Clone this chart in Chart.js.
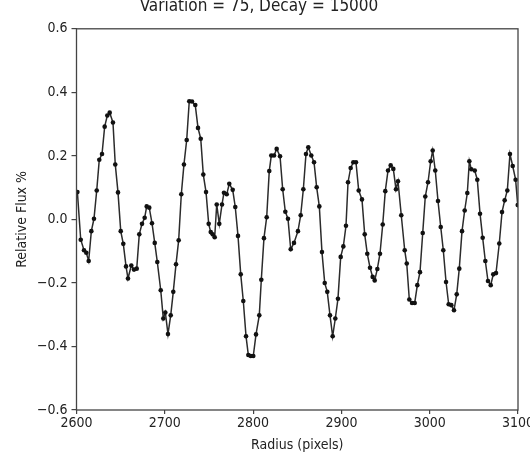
<!DOCTYPE html>
<html><head><meta charset="utf-8">
<script src="https://cdn.jsdelivr.net/npm/chart.js@4/dist/chart.umd.min.js"></script>
<style>
html,body{margin:0;padding:0;background:#fff;overflow:hidden;}
#wrap{position:relative;width:530px;height:464px;overflow:hidden;background:#fff;}
#c{position:absolute;left:0;top:-6px;}
</style></head><body>
<div id="wrap"><canvas id="c" width="530" height="470"></canvas></div>
<script>
const titleText = 'Variation = 75, Decay = 15000';
const xLabel = 'Radius (pixels)';
const yLabel = 'Relative Flux %';
const xTicks = [2600, 2700, 2800, 2900, 3000, 3100];
const yTicks = [-0.6, -0.4, -0.2, 0.0, 0.2, 0.4, 0.6];

const radius = [
2601.0,2604.8,2608.5,2611.1,2613.8,2616.8,2619.8,2622.9,2625.8,2628.9,
2631.9,2634.9,2637.6,2641.3,2643.9,2647.0,2650.1,2653.0,2656.1,2658.3,
2662.1,2665.1,2668.2,2671.1,2674.2,2677.2,2679.5,2682.4,2685.5,2688.6,
2691.5,2695.4,2698.3,2700.6,2703.6,2706.7,2709.6,2712.7,2715.7,2718.7,
2721.7,2724.8,2727.7,2730.8,2734.5,2737.6,2740.7,2743.6,2746.7,2749.7,
2752.0,2754.2,2756.5,2758.8,2761.7,2764.8,2767.0,2770.1,2773.0,2776.9,
2779.8,2782.9,2786.0,2788.9,2792.0,2794.6,2797.3,2800.2,2803.3,2807.0,
2809.3,2812.3,2815.4,2818.3,2820.6,2823.7,2826.7,2830.5,2833.5,2836.5,
2839.5,2842.6,2846.3,2850.8,2853.9,2856.9,2859.9,2862.5,2865.9,2869.0,
2872.0,2875.0,2878.0,2881.1,2884.0,2887.1,2890.1,2893.1,2896.1,2899.2,
2902.2,2905.2,2907.5,2910.5,2913.5,2916.5,2919.6,2923.3,2926.4,2929.3,
2932.4,2935.4,2937.7,2940.7,2943.7,2946.8,2949.7,2952.8,2955.8,2958.8,
2961.8,2964.1,2967.8,2971.7,2974.0,2976.9,2980.0,2983.0,2986.0,2989.0,
2992.1,2995.0,2998.1,3001.1,3003.4,3006.3,3009.4,3012.5,3015.4,3018.5,
3021.5,3024.5,3027.5,3030.6,3033.5,3036.6,3039.6,3042.6,3044.9,3047.1,
3051.0,3053.9,3057.0,3060.0,3063.0,3066.0,3069.1,3072.0,3075.1,3078.8,
3081.9,3084.9,3087.9,3090.9,3094.0,3097.3,3099.7
];
const flux = [
0.086,-0.064,-0.097,-0.105,-0.131,-0.037,0.002,0.091,0.188,0.206,
0.292,0.327,0.336,0.305,0.173,0.085,-0.037,-0.077,-0.148,-0.186,
-0.145,-0.158,-0.155,-0.047,-0.014,0.005,0.041,0.037,-0.012,-0.074,
-0.134,-0.223,-0.312,-0.293,-0.361,-0.302,-0.228,-0.141,-0.066,0.079,
0.173,0.250,0.372,0.371,0.360,0.288,0.254,0.141,0.086,-0.014,
-0.040,-0.047,-0.056,0.047,-0.014,0.047,0.084,0.079,0.112,0.093,
0.039,-0.052,-0.173,-0.257,-0.368,-0.427,-0.430,-0.430,-0.362,-0.302,
-0.190,-0.059,0.007,0.152,0.201,0.201,0.222,0.199,0.095,0.024,
0.002,-0.094,-0.074,-0.037,0.013,0.095,0.206,0.227,0.201,0.180,
0.101,0.041,-0.103,-0.200,-0.228,-0.302,-0.368,-0.312,-0.250,-0.118,
-0.085,-0.020,0.117,0.162,0.180,0.180,0.091,0.063,-0.047,-0.108,
-0.152,-0.181,-0.192,-0.156,-0.108,-0.016,0.089,0.154,0.170,0.159,
0.095,0.120,0.013,-0.097,-0.139,-0.252,-0.263,-0.263,-0.207,-0.166,
-0.043,0.072,0.117,0.183,0.217,0.154,0.058,-0.024,-0.097,-0.197,
-0.267,-0.270,-0.286,-0.236,-0.155,-0.037,0.028,0.083,0.183,0.158,
0.154,0.125,0.018,-0.058,-0.131,-0.194,-0.207,-0.173,-0.169,-0.076,
0.023,0.060,0.091,0.206,0.168,0.125,0.045
];

const FONT = '"DejaVu Sans Condensed", "Liberation Sans Narrow", "DejaVu Sans", sans-serif';
const frameColor = '#444';

const points = radius.map((r, i) => ({x: r, y: flux[i]}));

const framePlugin = {
  id: 'frame',
  afterDraw(chart) {
    const {ctx, chartArea: a} = chart;
    ctx.save();
    ctx.strokeStyle = frameColor;
    ctx.lineWidth = 1.3;
    ctx.strokeRect(a.left, a.top, a.right - a.left, a.bottom - a.top);
    ctx.restore();
  }
};

Chart.defaults.font.family = FONT;
Chart.defaults.color = '#222';

new Chart(document.getElementById('c'), {
  type: 'scatter',
  data: {
    datasets: [{
      data: points,
      showLine: true,
      borderColor: '#2b2b2b',
      borderWidth: 1.5,
      tension: 0,
      pointRadius: 2.3,
      pointBackgroundColor: '#111',
      pointBorderWidth: 0,
      pointHoverRadius: 2.3
    }]
  },
  options: {
    responsive: false,
    devicePixelRatio: 1,
    animation: false,
    events: [],
    layout: {padding: {left: 0, right: 12, top: 0, bottom: 0}},
    plugins: {
      legend: {display: false},
      tooltip: {enabled: false},
      title: {
        display: true,
        text: titleText,
        color: '#222',
        font: {size: 17, weight: 'normal', family: FONT, lineHeight: 1.2},
        padding: {top: 2, bottom: 12.4}
      }
    },
    scales: {
      x: {
        type: 'linear',
        min: 2600, max: 3100,
        afterBuildTicks: s => { s.ticks = xTicks.map(v => ({value: v})); },
        afterFit: s => { s.height = 54; s.paddingLeft = 0; s.paddingRight = 0; },
        ticks: {
          font: {size: 14, family: FONT},
          color: '#222',
          padding: 1,
          maxRotation: 0,
          autoSkip: false,
          callback: v => String(v)
        },
        grid: {display: true, drawOnChartArea: false, drawTicks: true, tickLength: 4, color: frameColor, lineWidth: 1.2},
        border: {display: false},
        title: {display: true, text: xLabel, color: '#222', font: {size: 14, family: FONT, lineHeight: 1.2}, padding: {top: 0, bottom: 10}}
      },
      y: {
        type: 'linear',
        min: -0.6, max: 0.6,
        afterBuildTicks: s => { s.ticks = yTicks.map(v => ({value: v})); },
        afterFit: s => { s.width = 76.5; },
        ticks: {
          font: {size: 14, family: FONT},
          color: '#222',
          padding: 4,
          autoSkip: false,
          callback: v => v.toFixed(1).replace('-', '\u2212')
        },
        grid: {display: true, drawOnChartArea: false, drawTicks: true, tickLength: 5, color: frameColor, lineWidth: 1.2},
        border: {display: false},
        title: {display: true, text: yLabel, color: '#222', font: {size: 14, family: FONT, lineHeight: 1.2}, padding: {top: 13.6, bottom: 0}}
      }
    }
  },
  plugins: [framePlugin]
});
</script>
</body></html>
